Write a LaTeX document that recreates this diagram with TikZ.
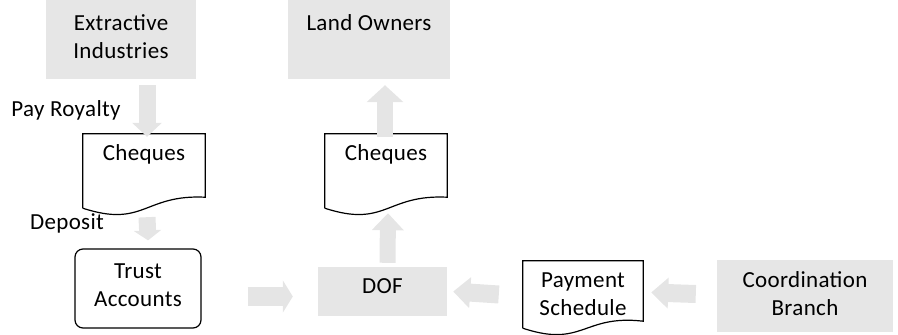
\documentclass[tikz,border=0pt]{standalone}
\usepackage{fontspec}
\setmainfont[LetterSpace=1.5]{Carlito}
\usetikzlibrary{arrows.meta,calc}
\definecolor{boxgray}{RGB}{230,230,230}
\definecolor{arrowgray}{RGB}{229,229,229}
\tikzset{
  txt/.style={font=\fontsize{23}{27.5}\selectfont},
  graybox/.style={txt, fill=boxgray, draw=none, inner ysep=0pt, align=center},
  docbox/.style={txt, draw=none, inner ysep=0pt, align=center},
  docline/.style={draw=black, line width=1.2pt},
  roundbox/.style={txt, draw=black, line width=1.2pt, rounded corners=8pt, inner ysep=0pt, align=center},
  vflow/.style={draw=arrowgray, line width=17pt},
  hflow/.style={draw=arrowgray, line width=19pt},
  lbl/.style={txt, inner sep=0pt}
}
% outline of a document symbol: flat top, wavy bottom rising to the right
\newcommand{\docoutline}[2]{%
  \draw[docline] (#1.south west) -- (#1.north west) -- (#1.north east)
    -- ($(#1.south east)+(0,-#2)$)
    .. controls ($(#1.south)+(0,-14)$) and ($(#1.south)+(0,20)$) .. (#1.south west);}
\begin{document}
\begin{tikzpicture}[x=1pt,y=-1pt]
\useasboundingbox (0,0) rectangle (898,335);

% boxes (text height is measured down to the baseline of the last line)
\node[graybox, minimum width=150pt, minimum height=79pt, text height=58pt, text depth=21pt]
  (ext) at (121,39.5) {Extractive\\Industries};
\node[graybox, minimum width=162pt, minimum height=79pt, text height=30pt, text depth=49pt]
  (land) at (369,39.5) {Land Owners};
\node[docbox, minimum width=122pt, minimum height=74pt, text height=26pt, text depth=48pt]
  (c1) at (144,171) {Cheques};
\node[docbox, minimum width=122pt, minimum height=74pt, text height=26pt, text depth=48pt]
  (c2) at (386,171) {Cheques};
\node[roundbox, minimum width=126pt, minimum height=79pt, text height=57pt, text depth=22pt]
  (trust) at (138,288.5) {Trust\\Accounts};
\node[graybox, minimum width=129pt, minimum height=49pt, text height=26pt, text depth=23pt]
  (dof) at (382.5,291.5) {DOF};
\node[docbox, minimum width=120pt, minimum height=67pt, text height=54pt, text depth=13pt]
  (pay) at (583,294.5) {Payment\\Schedule};
\node[graybox, minimum width=176pt, minimum height=72pt, text height=55pt, text depth=17pt]
  (coord) at (805,296) {Coordination\\Branch};

\docoutline{c1}{11}
\docoutline{c2}{11}
\docoutline{pay}{7}

% labels
\node[lbl] (royalty) at (66,110) {Pay Royalty};
\node[lbl] (deposit) at (67,223) {Deposit};

% block arrows
\draw[vflow, -{Triangle[length=14pt,width=29pt]}]
  ($(ext.south -| c1.north)+(3,6)$) -- ($(c1.north)+(3,3)$);
\draw[vflow, -{Triangle[length=10pt,width=27pt]}]
  ($(c1.south)+(3,9)$) -- ($(trust.north)+(10,-8)$);
\draw[hflow, -{Triangle[length=10pt,width=32pt]}]
  ($(trust.east |- dof.center)+(46,5)$) -- ($(dof.west)+(-25,5)$);
\draw[vflow, line width=16pt, -{Triangle[length=17pt,width=31pt]}]
  ($(dof.north)+(5,-4)$) -- ($(c2.south)+(2,5)$);
\draw[vflow, line width=16pt, -{Triangle[length=17pt,width=36pt]}]
  ($(c2.north)+(-1,3)$) -- ($(land.south -| c2.north)+(-1,6)$);
\draw[hflow, line width=18pt, -{Triangle[length=17pt,width=30pt]}]
  ($(pay.west)+(-24,0)$) -- ($(dof.east)+(6,0)$);
\draw[hflow, line width=18pt, -{Triangle[length=17pt,width=30pt]}]
  ($(coord.west)+(-21,-2)$) -- ($(pay.east)+(8,-2)$);
\end{tikzpicture}
\end{document}
